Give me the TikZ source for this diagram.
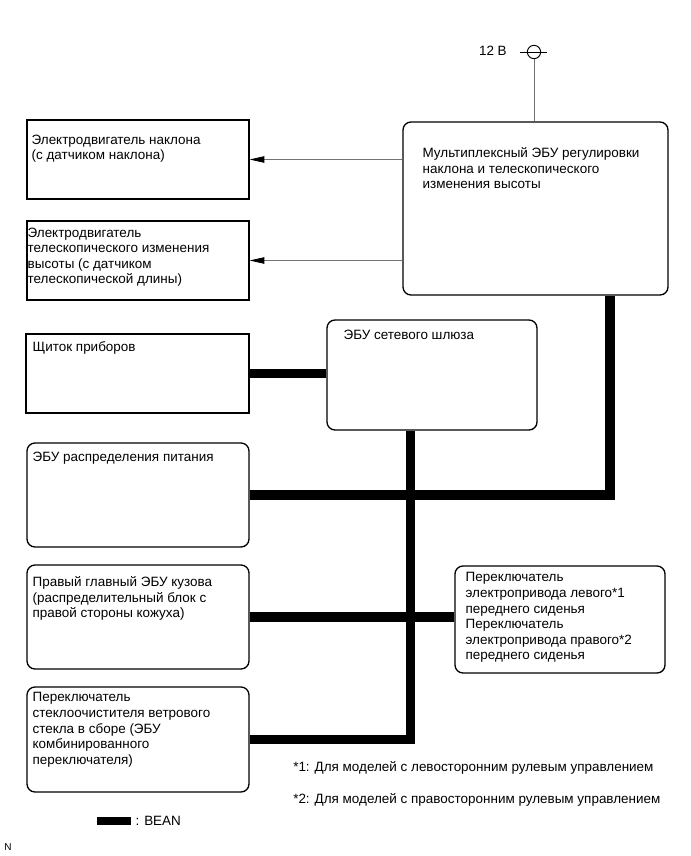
\documentclass[tikz,border=0pt]{standalone}
\usepackage{fontspec}
\setmainfont{Liberation Sans}
\usetikzlibrary{arrows.meta,positioning,fit,calc}
\definecolor{wire}{RGB}{115,115,115}
\tikzset{
  >={Triangle[length=11pt,width=4.8pt,color=black]},
  unit/.style={draw=black,line width=1pt,inner sep=0pt,rounded corners=#1},
  unit/.default=6pt,
  flat unit/.style={draw=black,line width=0.9pt,inner sep=0pt},
  lbl/.style={anchor=north west,inner sep=0pt,align=left,font=\fontsize{10.1}{11.7}\selectfont},
  signal/.style={->,draw=wire,line width=0.6pt},
  bean/.style={draw=black,line width=6.8pt},
}

\begin{document}
\begin{tikzpicture}[x=0.75pt,y=-0.75pt]
  \useasboundingbox (0,0) rectangle (690,856);
  % power supply
  \node[circle,draw,inner sep=0pt,minimum size=10pt,line width=0.7pt] (plus) at (534,52) {};
  \coordinate (tapl) at (520,52);
  \coordinate (tapr) at (547,52);
  \draw[line width=0.7pt] (tapl) -- (tapr);
  \node[lbl,anchor=east] (volt) at (507,51) {12 В};

  % units
  \node[unit,fit={(403,122) (668,295)}] (tcu) {};
  \node[flat unit,fit={(27,120) (249,199)}] (tilt) {};
  \node[flat unit,fit={(27,221) (249,300)}] (tele) {};
  \node[flat unit,fit={(26,334) (249,413)}] (meter) {};
  \node[unit,fit={(327,320) (537,430)}] (gw) {};
  \node[unit,fit={(27,443) (249,547)}] (pwr) {};
  \node[unit,fit={(27,565) (249,669)}] (body) {};
  \node[unit,fit={(455,566) (665,673)}] (seat) {};
  \node[unit,fit={(27,687) (249,792)}] (wiper) {};

  % labels
  \node[lbl] (tcu-t) at ([shift={(20,26)}]tcu.north west) {Мультиплексный ЭБУ регулировки\\наклона и телескопического\\изменения высоты};
  \node[lbl] (tilt-t) at ([shift={(5,15)}]tilt.north west) {Электродвигатель наклона\\(с датчиком наклона)};
  \node[lbl] (tele-t) at ([shift={(1,7)}]tele.north west) {Электродвигатель\\телескопического изменения\\высоты (с датчиком\\телескопической длины)};
  \node[lbl] (meter-t) at ([shift={(7,8)}]meter.north west) {Щиток приборов};
  \node[lbl] (gw-t) at ([shift={(17,10)}]gw.north west) {ЭБУ сетевого шлюза};
  \node[lbl] (pwr-t) at ([shift={(6,9)}]pwr.north west) {ЭБУ распределения питания};
  \node[lbl] (body-t) at ([shift={(6,12)}]body.north west) {Правый главный ЭБУ кузова\\(распределительный блок с\\правой стороны кожуха)};
  \node[lbl] (seat-t) at ([shift={(11,7)}]seat.north west) {Переключатель\\электропривода левого*1\\переднего сиденья\\Переключатель\\электропривода правого*2\\переднего сиденья};
  \node[lbl] (wiper-t) at ([shift={(6,6)}]wiper.north west) {Переключатель\\стеклоочистителя ветрового\\стекла в сборе (ЭБУ\\комбинированного\\переключателя)};

  % signal lines
  \draw[draw=wire,line width=0.6pt] (plus.south) -- (tcu.north -| plus);
  \draw[signal] (tcu.west |- tilt.east) -- (tilt.east);
  \draw[signal] (tcu.west |- tele.east) -- (tele.east);

  % BEAN bus
  \coordinate (trunk) at (410.5,0);
  \coordinate (riser) at (610,0);
  \draw[bean] (meter.east) -- (meter.east -| gw.west);
  \draw[bean] (trunk |- gw.south) |- (wiper.east);
  \draw[bean] (riser |- tcu.south) |- (pwr.east);
  \draw[bean] (body.east) -- (body.east -| seat.west);

  % notes
  \node[lbl,anchor=west] (fn1) at (293,768) {*1: Для моделей с левосторонним рулевым управлением};
  \node[lbl,anchor=west] (fn2) at (293,800) {*2: Для моделей с правосторонним рулевым управлением};
  \node[fill=black,inner sep=0pt,fit={(97,817) (131,825)}] (key) {};
  \node[lbl,anchor=west] (key-t) at ([xshift=3pt]key.east) {: BEAN};
  \node[lbl,anchor=west,font=\fontsize{7.5}{9}\selectfont] (nmark) at (4,847) {N};
\end{tikzpicture}
\end{document}
